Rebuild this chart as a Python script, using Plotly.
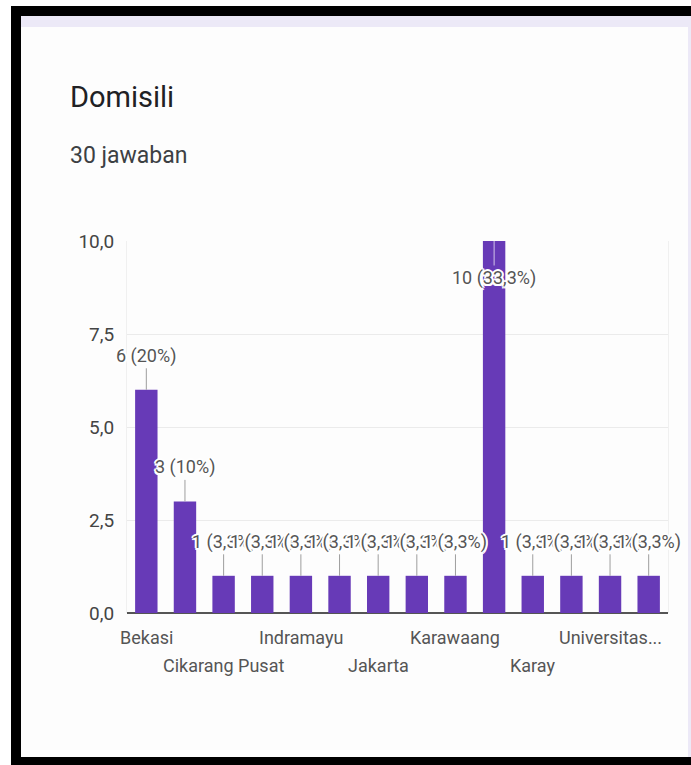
import plotly.graph_objects as go

# ---- data ----
categories = ["Bekasi", "Cikarang", "Cikarang Pusat", "Depok", "Indramayu",
              "Jabodetabek", "Jakarta", "Jakarta Timur", "Karawaang", "Karawang",
              "Karay", "Purwakarta", "Universitas Buana Perjuangan",
              "Universitas Singaperbangsa Karawang"]
counts = [6, 3, 1, 1, 1, 1, 1, 1, 1, 10, 1, 1, 1, 1]
axis_labels = ["Bekasi", "", "Cikarang Pusat", "", "Indramayu", "", "Jakarta", "",
               "Karawaang", "", "Karay", "", "Universitas...", ""]
label_rows = [0, 0, 1, 0, 0, 0, 1, 0, 0, 0, 1, 0, 0, 0]
y_ticks = [0, 2.5, 5, 7.5, 10]
title = "Domisili"
subtitle = "30 jawaban"

W, H = 691, 765
L, R, T, B = 127, 668, 241, 613
total = sum(counts)


def xp(px):
    return (px - L) / (R - L)


def yp(py):
    return (B - py) / (B - T)


def fmt_label(v):
    pct = round(v / total * 100, 1)
    s = str(int(pct)) if pct == int(pct) else f"{pct}".replace(".", ",")
    return f"{v} ({s}%)"


purple = "#673AB7"
txt = "#555555"
halo = "1.5px 1.5px 0 #fff, -1.5px -1.5px 0 #fff, 1.5px -1.5px 0 #fff, -1.5px 1.5px 0 #fff, 0 2px 0 #fff, 0 -2px 0 #fff, 2px 0 0 #fff, -2px 0 0 #fff"

fig = go.Figure(go.Bar(x=categories, y=counts, marker_color=purple,
                       marker_line_width=0, hoverinfo="skip"))

shapes = [
    dict(type="rect", xref="paper", yref="paper", x0=xp(11), x1=xp(700), y0=yp(6), y1=yp(770),
         fillcolor="#000000", line_width=0, layer="below"),
    dict(type="rect", xref="paper", yref="paper", x0=xp(21), x1=xp(700), y0=yp(16), y1=yp(757),
         fillcolor="#ECE9F7", line_width=0, layer="below"),
    dict(type="rect", xref="paper", yref="paper", x0=xp(21), x1=xp(688), y0=yp(27), y1=yp(757),
         fillcolor="#FDFDFD", line_width=0, layer="below"),
]

annotations = [
    dict(text=title, xref="paper", yref="paper", x=xp(68), y=yp(97), xanchor="left",
         yanchor="middle", showarrow=False, font=dict(size=29, color="#202124", family="Roboto")),
    dict(text=subtitle, xref="paper", yref="paper", x=xp(68), y=yp(155), xanchor="left",
         yanchor="middle", showarrow=False, font=dict(size=23, color="#3c4043", family="Roboto")),
]

# data labels
for c, v in zip(categories, counts):
    if v >= 10:
        annotations.append(dict(x=c, y=v, xref="x", yref="y", text=fmt_label(v), showarrow=True,
                                arrowhead=0, arrowwidth=1, arrowcolor="rgba(255,255,255,0.7)",
                                ax=0, ay=37, font=dict(size=18, color=txt, family="Roboto", shadow=halo)))
    else:
        annotations.append(dict(x=c, y=v, xref="x", yref="y", text=fmt_label(v), showarrow=True,
                                arrowhead=0, arrowwidth=1, arrowcolor="#9e9e9e",
                                ax=0, ay=-34, font=dict(size=18, color=txt, family="Roboto", shadow=halo)))

# staggered category labels
for c, lab, row in zip(categories, axis_labels, label_rows):
    if lab:
        annotations.append(dict(x=c, y=0, xref="x", yref="paper", text=lab, showarrow=False,
                                yanchor="middle", yshift=-24 - 28 * row,
                                font=dict(size=18, color=txt, family="Roboto")))

fig.update_layout(
    width=W, height=H,
    margin=dict(l=L, r=W - R, t=T, b=H - B, pad=0),
    paper_bgcolor="#ffffff",
    plot_bgcolor="#FDFDFD",
    separators=",.",
    bargap=0.42,
    showlegend=False,
    shapes=shapes,
    annotations=annotations,
    font=dict(family="Roboto", color=txt),
    xaxis=dict(showticklabels=False, showgrid=False, zeroline=False, showline=False,
               range=[-0.5, len(categories) - 0.5], autorange=False, fixedrange=True),
    yaxis=dict(range=[0, 10], tickvals=y_ticks, tickformat=".1f", showgrid=True,
               gridcolor="#ebebeb", gridwidth=1, zeroline=True, zerolinecolor="#555555",
               zerolinewidth=2, showline=True, linecolor="#f0f0f0", mirror=True,
               ticks="", ticklabelstandoff=8,
               tickfont=dict(size=19, color="#444444", family="Roboto"), fixedrange=True),
)

fig.write_html("out.html", config={"displayModeBar": False})
